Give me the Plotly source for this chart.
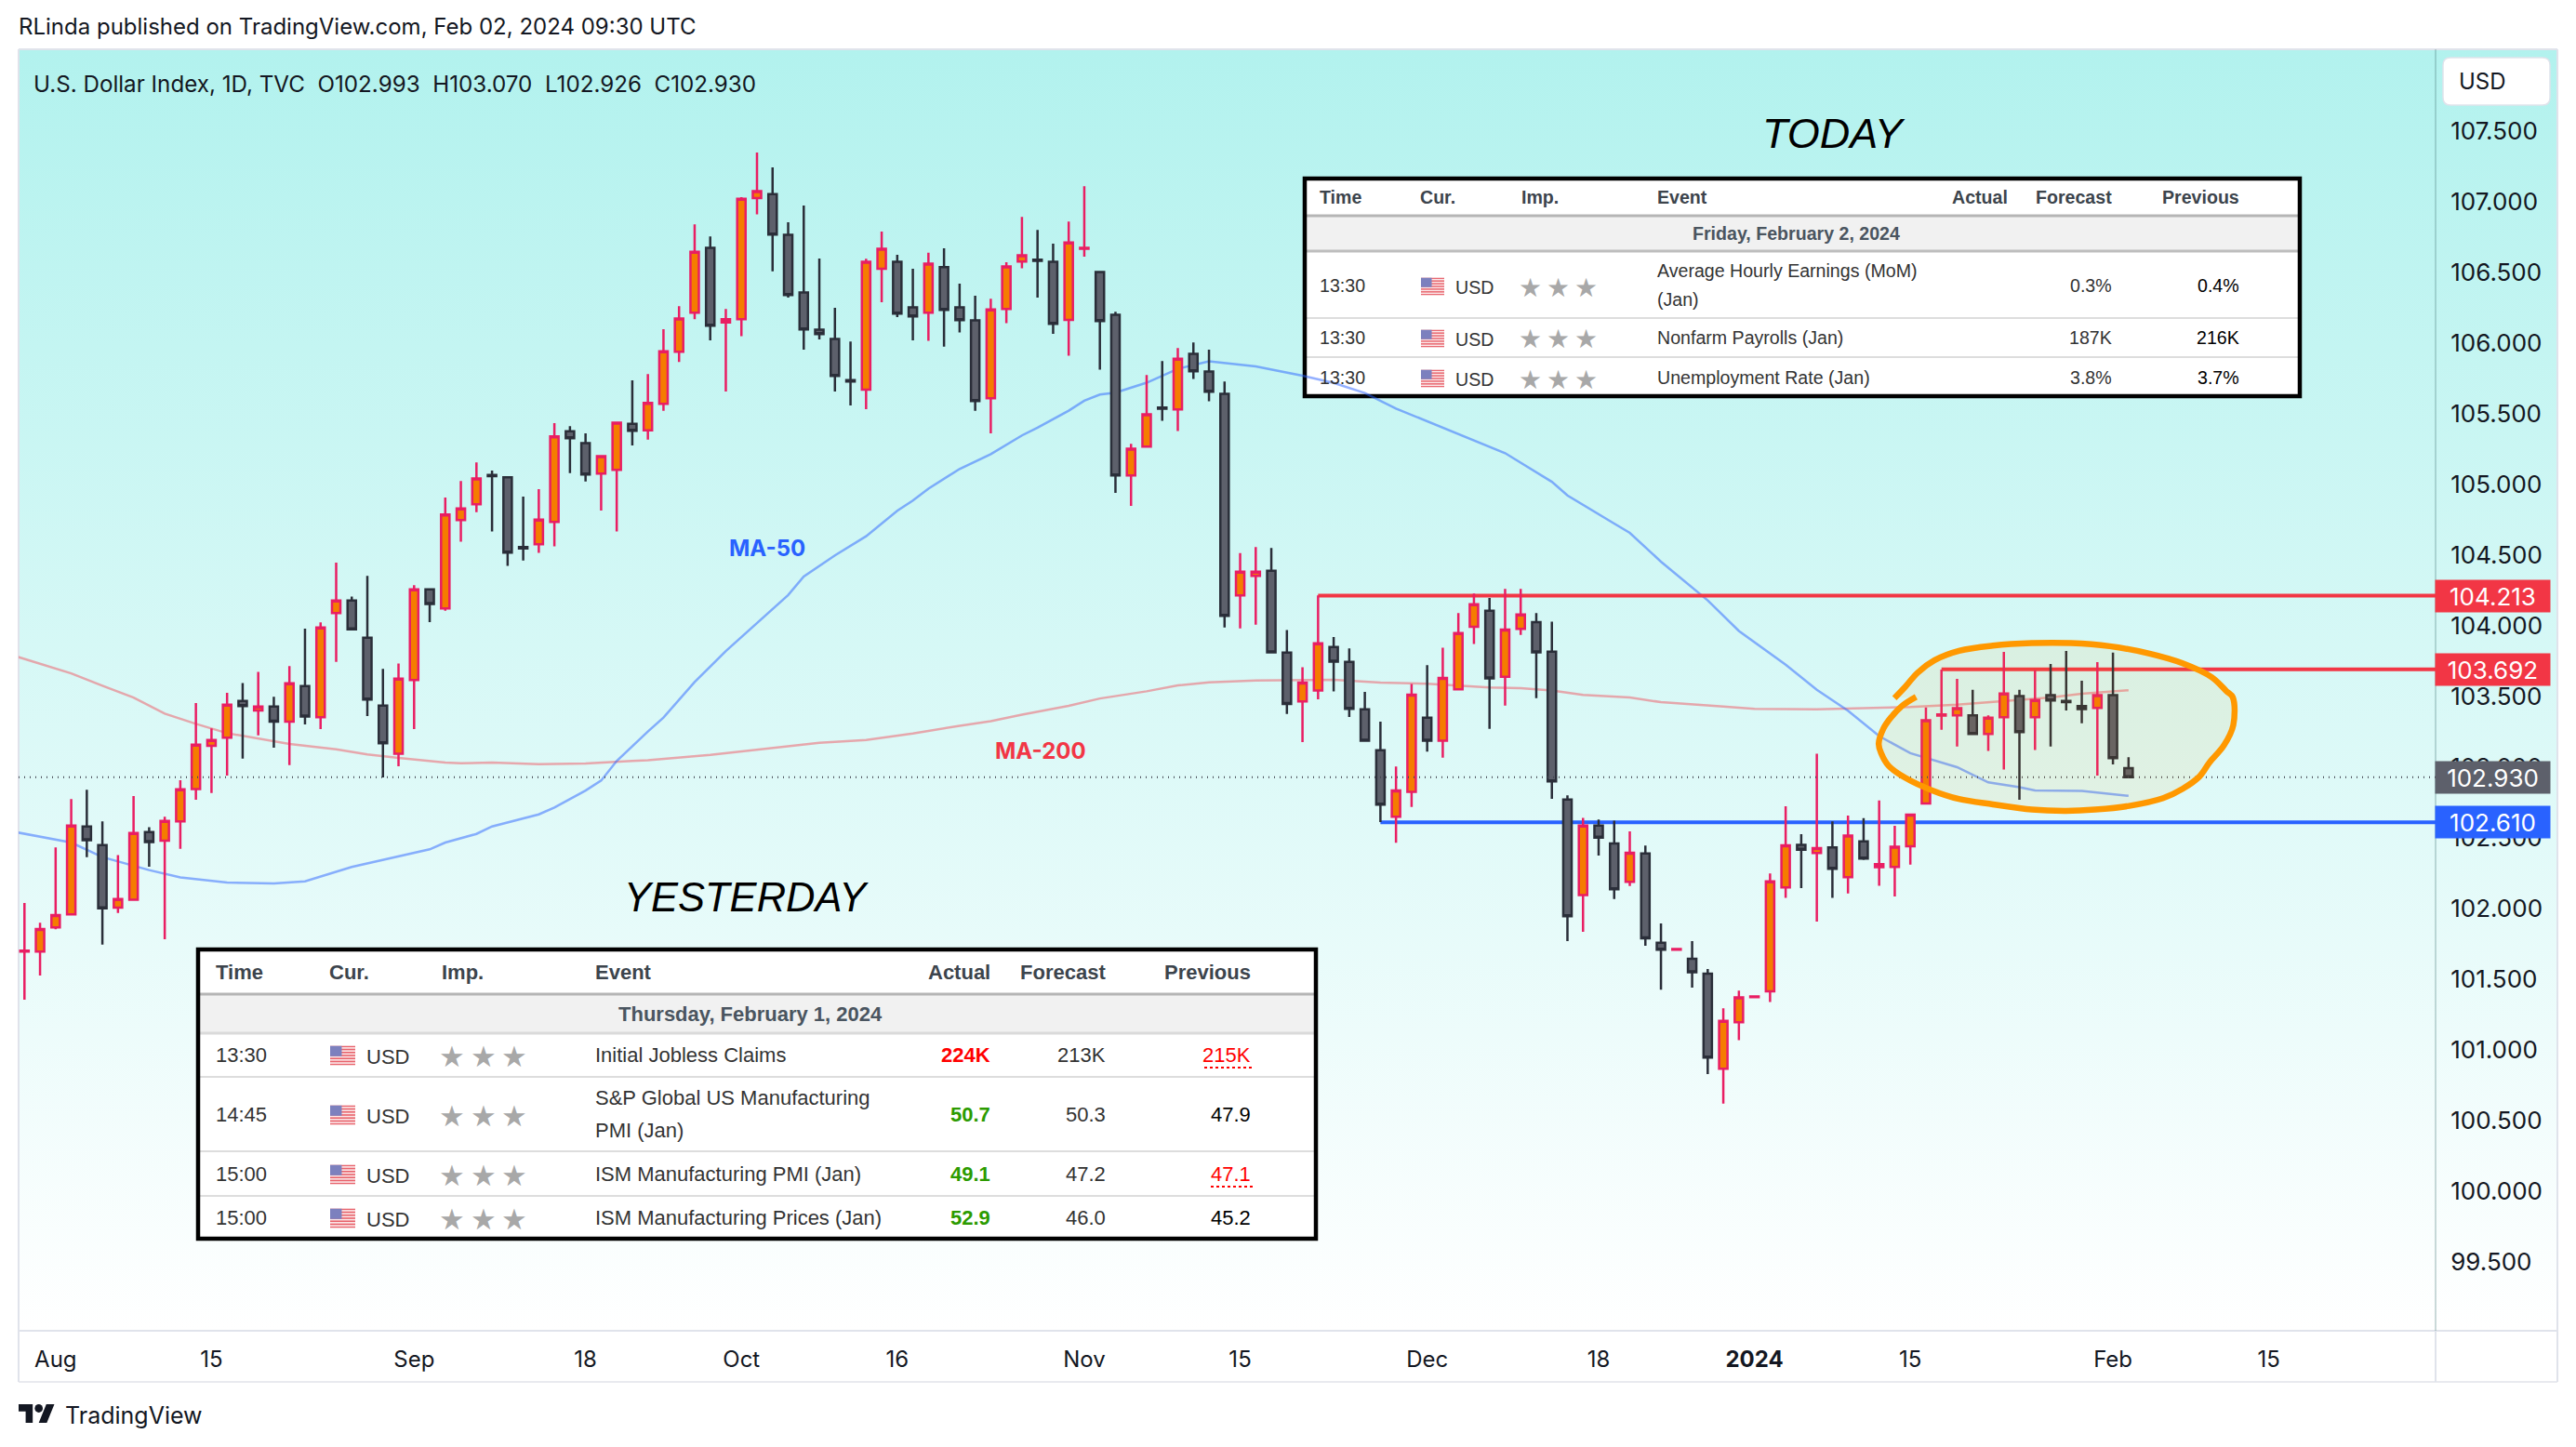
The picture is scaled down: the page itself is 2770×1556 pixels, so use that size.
import base64
import plotly.graph_objects as go

# OHLC, one candle per weekday from 2023-07-28
open_ = [101.695, 101.695, 101.866, 101.958, 102.581, 102.449, 102.006, 102.063, 102.541, 102.480,
         102.616, 102.846, 103.151, 103.208, 103.469, 103.401, 103.430, 103.322, 103.574, 103.353,
         104.090, 104.180, 103.916, 103.436, 103.096, 103.616, 104.259, 104.123, 104.748, 104.860,
         105.068, 105.051, 104.558, 104.577, 104.735, 105.377, 105.292, 105.077, 105.103, 105.430,
         105.384, 105.571, 105.939, 106.215, 106.674, 106.147, 106.169, 107.027, 107.055, 106.766,
         106.358, 106.095, 106.029, 105.738, 105.671, 106.527, 106.575, 106.253, 106.215, 106.538,
         106.253, 106.161, 105.610, 106.242, 106.577, 106.590, 106.575, 106.165, 106.667, 106.503,
         106.200, 105.064, 105.268, 105.544, 105.531, 105.924, 105.799, 105.641, 104.216, 104.354,
         104.389, 103.810, 103.465, 103.543, 103.851, 103.745, 103.410, 103.120, 102.650, 102.826,
         103.350, 103.188, 103.551, 103.994, 104.107, 103.639, 103.979, 104.027, 103.818, 102.771,
         102.096, 102.587, 102.461, 102.189, 102.390, 101.758, 101.708, 101.645, 101.539, 100.867,
         101.195, 101.373, 101.414, 102.149, 102.451, 102.393, 102.432, 102.222, 102.476, 102.292,
         102.294, 102.441, 102.744, 103.365, 103.367, 103.367, 103.235, 103.354, 103.503, 103.354,
         103.509, 103.469, 103.432, 103.419, 103.509, 102.993]
high = [102.039, 101.899, 102.432, 102.774, 102.840, 102.616, 102.379, 102.796, 102.576, 102.649,
        102.908, 103.454, 103.274, 103.526, 103.596, 103.675, 103.498, 103.715, 103.980, 104.024,
        104.447, 104.208, 104.353, 103.695, 103.734, 104.287, 104.267, 104.908, 105.024, 105.156,
        105.099, 105.051, 104.915, 104.967, 105.434, 105.413, 105.362, 105.200, 105.437, 105.737,
        105.781, 106.099, 106.261, 106.840, 106.755, 106.242, 107.033, 107.349, 107.244, 106.856,
        106.974, 106.599, 106.250, 106.011, 106.597, 106.790, 106.625, 106.527, 106.639, 106.671,
        106.421, 106.336, 106.314, 106.573, 106.893, 106.801, 106.704, 106.860, 107.110, 106.509,
        106.222, 105.288, 105.775, 105.873, 105.965, 106.005, 105.954, 105.729, 104.514, 104.557,
        104.551, 103.971, 103.707, 104.216, 103.921, 103.841, 103.533, 103.322, 103.005, 103.589,
        103.722, 103.846, 104.090, 104.228, 104.198, 104.261, 104.261, 104.090, 104.029, 102.801,
        102.642, 102.630, 102.622, 102.546, 102.446, 101.894, 101.714, 101.769, 101.572, 101.295,
        101.419, 101.379, 102.249, 102.723, 102.526, 103.095, 102.617, 102.658, 102.639, 102.764,
        102.586, 102.665, 103.422, 103.691, 103.625, 103.547, 103.367, 103.816, 103.547, 103.685,
        103.731, 103.823, 103.612, 103.744, 103.810, 103.070]
low = [101.355, 101.526, 101.853, 101.958, 102.364, 101.745, 101.969, 102.063, 102.296, 101.783,
       102.423, 102.769, 102.818, 102.941, 103.061, 103.226, 103.138, 103.015, 103.302, 103.269,
       103.745, 103.969, 103.362, 102.927, 103.006, 103.269, 104.026, 104.107, 104.595, 104.805,
       104.667, 104.425, 104.462, 104.516, 104.562, 105.081, 105.022, 104.816, 104.667, 105.277,
       105.318, 105.522, 105.867, 106.169, 106.020, 105.658, 106.049, 106.911, 106.509, 106.323,
       105.954, 106.027, 105.658, 105.560, 105.533, 106.290, 106.185, 106.020, 106.016, 105.976,
       106.075, 105.522, 105.362, 106.141, 106.529, 106.323, 106.066, 105.911, 106.612, 105.812,
       104.941, 104.849, 105.268, 105.450, 105.378, 105.746, 105.588, 103.989, 103.982, 104.009,
       103.813, 103.377, 103.178, 103.480, 103.536, 103.355, 103.188, 102.612, 102.466, 102.718,
       103.110, 103.068, 103.551, 103.871, 103.272, 103.435, 103.936, 103.488, 102.776, 101.769,
       101.836, 102.375, 102.068, 102.159, 101.736, 101.426, 101.708, 101.441, 100.829, 100.620,
       101.069, 101.373, 101.338, 102.076, 102.144, 101.907, 102.075, 102.106, 102.343, 102.161,
       102.086, 102.310, 102.744, 103.264, 103.147, 103.235, 103.115, 102.983, 102.770, 103.121,
       103.147, 103.402, 103.310, 102.941, 103.020, 102.926]
close = [101.703, 101.855, 101.954, 102.587, 102.484, 102.002, 102.068, 102.535, 102.471, 102.620,
         102.844, 103.160, 103.193, 103.443, 103.432, 103.430, 103.322, 103.594, 103.359, 103.989,
         104.180, 103.976, 103.478, 103.169, 103.627, 104.259, 104.155, 104.788, 104.831, 105.042,
         105.060, 104.518, 104.548, 104.752, 105.340, 105.327, 105.070, 105.200, 105.437, 105.380,
         105.577, 105.943, 106.174, 106.647, 106.123, 106.169, 107.022, 107.075, 106.768, 106.340,
         106.097, 106.064, 105.768, 105.728, 106.575, 106.667, 106.209, 106.189, 106.562, 106.235,
         106.163, 105.590, 106.239, 106.542, 106.621, 106.582, 106.136, 106.713, 106.675, 106.156,
         105.064, 105.253, 105.496, 105.536, 105.889, 105.801, 105.656, 104.070, 104.384, 104.384,
         103.813, 103.448, 103.599, 103.876, 103.747, 103.413, 103.188, 102.735, 102.836, 103.513,
         103.188, 103.632, 103.949, 104.153, 103.629, 103.974, 104.080, 103.813, 102.899, 101.945,
         102.587, 102.501, 102.136, 102.395, 101.789, 101.708, 101.714, 101.549, 100.945, 101.205,
         101.371, 101.379, 102.192, 102.448, 102.416, 102.428, 102.281, 102.516, 102.354, 102.314,
         102.437, 102.665, 103.332, 103.373, 103.417, 103.235, 103.351, 103.522, 103.248, 103.476,
         103.472, 103.461, 103.411, 103.509, 103.064, 102.930]
candle_x = list(range(len(close)))

ma50_x = [-1, 3, 5, 8, 10, 13, 16, 18, 21, 23, 26, 27, 29, 30, 33, 34, 36, 37, 38, 40, 41, 43, 45,
          49, 50, 52, 54, 56, 57, 58, 60, 62, 64, 65, 67, 68, 69, 70, 72, 74, 76, 79, 82, 84, 86,
          88, 91, 94, 95, 98, 99, 102, 103, 105, 106, 108, 110, 113, 115, 117, 119, 121, 124, 126,
          128, 129, 132, 135]
ma50_y = [102.550, 102.467, 102.364, 102.272, 102.221, 102.184, 102.177, 102.193, 102.294, 102.342,
          102.419, 102.467, 102.528, 102.581, 102.666, 102.715, 102.835, 102.905, 103.044, 103.252,
          103.351, 103.603, 103.822, 104.218, 104.349, 104.498, 104.634, 104.814, 104.886, 104.970,
          105.110, 105.215, 105.347, 105.402, 105.522, 105.593, 105.636, 105.650, 105.720, 105.818,
          105.871, 105.836, 105.770, 105.719, 105.647, 105.537, 105.401, 105.270, 105.222, 105.019,
          104.923, 104.724, 104.658, 104.454, 104.362, 104.180, 103.964, 103.725, 103.548, 103.400,
          103.220, 103.099, 103.000, 102.893, 102.858, 102.836, 102.832, 102.797]
ma200_x = [-1, 1, 3, 5, 7, 9, 11, 13, 15, 17, 20, 22, 24, 27, 28, 30, 33, 36, 39, 40, 44, 48, 51,
           54, 57, 60, 62, 64, 67, 69, 72, 74, 76, 79, 82, 84, 87, 90, 94, 96, 98, 100, 103, 105,
           109, 111, 115, 118, 121, 124, 126, 130, 132, 135]
ma200_y = [103.800, 103.734, 103.664, 103.576, 103.493, 103.379, 103.307, 103.241, 103.204, 103.164,
           103.127, 103.090, 103.066, 103.033, 103.028, 103.033, 103.022, 103.026, 103.044, 103.050,
           103.087, 103.138, 103.173, 103.193, 103.239, 103.293, 103.326, 103.372, 103.434, 103.486,
           103.537, 103.579, 103.601, 103.614, 103.619, 103.618, 103.599, 103.591, 103.564, 103.559,
           103.543, 103.511, 103.493, 103.460, 103.430, 103.413, 103.410, 103.417, 103.426, 103.443,
           103.461, 103.494, 103.520, 103.544]

# hand drawn orange ring
ring_x = [119.98, 120.69, 121.47, 122.56, 124.12, 126.30, 128.80, 131.30, 133.79, 136.29, 138.47,
          140.35, 141.28, 141.69, 141.72, 141.12, 140.19, 139.56, 138.47, 137.22, 135.04, 132.86,
          130.98, 128.80, 126.30, 124.12, 122.40, 120.69, 119.60, 119.13, 118.97, 119.28, 119.75,
          120.53, 121.37]
ring_y = [103.489, 103.571, 103.669, 103.757, 103.823, 103.860, 103.878, 103.878, 103.856, 103.805,
          103.735, 103.636, 103.538, 103.494, 103.297, 103.154, 103.033, 102.935, 102.847, 102.781,
          102.726, 102.700, 102.691, 102.700, 102.737, 102.775, 102.836, 102.924, 103.011, 103.099,
          103.165, 103.275, 103.351, 103.439, 103.498]

# horizontal levels: start candle, price
level_start = [83, 123, 87]
level_price = [104.213, 103.692, 102.610]
level_color = ['#F23645', '#F23645', '#2962FF']
last_price = 102.930

y_ticks = [99.5, 100, 100.5, 101, 101.5, 102, 102.5, 103, 103.5, 104, 104.5, 105, 105.5, 106,
           106.5, 107, 107.5]
x_tick_pos = [2, 12, 25, 36, 46, 56, 68, 78, 90, 101, 111, 121, 134, 144]
x_tick_text = ['Aug', '15', 'Sep', '18', 'Oct', '16', 'Nov', '15', 'Dec', '18', '<b>2024</b>', '15', 'Feb', '15']

today_rows = [['13:30', ['Average Hourly Earnings (MoM)', '(Jan)'], '', '0.3%', '0.4%'],
              ['13:30', ['Nonfarm Payrolls (Jan)'], '', '187K', '216K'],
              ['13:30', ['Unemployment Rate (Jan)'], '', '3.8%', '3.7%']]
yesterday_rows = [['13:30', ['Initial Jobless Claims'], '224K', '213K', '215K'],
                  ['14:45', ['S&P Global US Manufacturing', 'PMI (Jan)'], '50.7', '50.3', '47.9'],
                  ['15:00', ['ISM Manufacturing PMI (Jan)'], '49.1', '47.2', '47.1'],
                  ['15:00', ['ISM Manufacturing Prices (Jan)'], '52.9', '46.0', '45.2']]

# layout in picture pixels
W, H = 2770, 1556
L, R, T, B = 20, 2619, 53, 1431
x_range = [-0.376, 154.7]
y_range = [99.013, 108.079]
ui_font = 'Inter'
tbl_font = 'Liberation Sans'


def px(x):
    return (x - L) / (R - L)


def py(y):
    return (B - y) / (B - T)


def data_uri(svg):
    return 'data:image/svg+xml;base64,' + base64.b64encode(svg.encode()).decode()


annotations, shapes, images = [], [], []


def note(x, y, text, size=24, color='#131722', anchor='left', font=ui_font):
    annotations.append(dict(x=px(x), y=py(y), xref='paper', yref='paper', text=text, showarrow=False,
                            xanchor=anchor, yanchor='middle', font=dict(family=font, size=size, color=color)))


def box(x0, y0, x1, y1, fill=None, line=None, width=0, layer='below'):
    shapes.append(dict(type='rect', xref='paper', yref='paper', x0=px(x0), x1=px(x1), y0=py(y0), y1=py(y1),
                       fillcolor=fill, line=dict(color=line, width=width), layer=layer))


def hline(x0, x1, y, color, width, dash='solid', layer='below'):
    shapes.append(dict(type='line', xref='paper', yref='paper', x0=px(x0), x1=px(x1), y0=py(y), y1=py(y),
                       line=dict(color=color, width=width, dash=dash), layer=layer))


def vline(x, y0, y1, color, width=2):
    shapes.append(dict(type='line', xref='paper', yref='paper', x0=px(x), x1=px(x), y0=py(y0), y1=py(y1),
                       line=dict(color=color, width=width), layer='below'))


def image(src, x0, y0, x1, y1, layer='above'):
    images.append(dict(source=src, xref='paper', yref='paper', x=px(x0), y=py(y0), sizex=px(x1) - px(x0),
                       sizey=py(y0) - py(y1), sizing='stretch', xanchor='left', yanchor='top', layer=layer))


# background gradient, runs under the price pane too
bg_svg = ('<svg xmlns="http://www.w3.org/2000/svg" width="10" height="100" preserveAspectRatio="none">'
          '<defs><linearGradient id="g" x1="0" y1="0" x2="0" y2="1"><stop offset="0" stop-color="#B2F2EE"/>'
          '<stop offset="1" stop-color="#FFFFFF"/></linearGradient></defs>'
          '<rect width="10" height="100" fill="url(#g)"/></svg>')
image(data_uri(bg_svg), L, T, 2750, B, layer='below')

stripes = ''.join(f'<rect y="{i * 2}" width="26" height="1" fill="#E8636C"/>' for i in range(7))
flag_svg = ('<svg xmlns="http://www.w3.org/2000/svg" width="26" height="13" viewBox="0 0 26 13" preserveAspectRatio="none">'
            '<rect width="26" height="13" fill="#FBE9EA"/>' + stripes +
            '<rect width="12" height="7" fill="#7C80BE"/></svg>')
logo_svg = ('<svg xmlns="http://www.w3.org/2000/svg" width="36" height="18" viewBox="0 4 36 18" preserveAspectRatio="none">'
            '<path fill="#131722" d="M14 22H7V11H0V4h14v18zM28 22h-8l7.5-18h8L28 22z"/>'
            '<circle fill="#131722" cx="20" cy="8" r="4"/></svg>')

# frame of the chart
hline(L, 2750, T, '#E0E3EB', 2)
hline(L, 2750, B, '#E0E3EB', 2)
hline(L, 2750, 1486, '#E9EAEF', 2)
vline(L, T, 1486, '#E0E3EB')
vline(R, T, B, 'rgba(70,120,120,0.28)')
vline(R, B, 1486, '#E0E3EB')
vline(2750, T, 1486, '#E0E3EB')


def calendar(rows, date_text, rect, head_y, head_line, date_line, row_lines, centers, cols, size, flag, stars_x, star_h):
    x0, y0, x1, y1 = rect
    box(x0, y0, x1, y1, fill='#FFFFFF')
    box(x0, head_line, x1, date_line, fill='#F1F1F1')
    hline(x0, x1, head_line, '#B5B5B5', 3)
    hline(x0, x1, date_line, '#BDBDBD' if size < 22 else '#DADADA', 3)
    for yl in row_lines:
        hline(x0, x1, yl, '#DDDDDD', 2)
    box(x0, y0, x1, y1, line='#000000', width=4.5)

    heads = ['Time', 'Cur.', 'Imp.', 'Event']
    for name, cx in zip(heads, cols[:4]):
        note(cx, head_y, f'<b>{name}</b>', size, '#3C444C', font=tbl_font)
    note(cols[4], head_y, '<b>Actual</b>', size, '#3C444C', 'right', tbl_font)
    note(cols[5], head_y, '<b>Forecast</b>', size, '#3C444C', 'right', tbl_font)
    note(cols[6], head_y, '<b>Previous</b>', size, '#3C444C', 'right', tbl_font)
    note((x0 + x1) / 2 - 7, (head_line + date_line) / 2, f'<b>{date_text}</b>', size, '#4A5560', 'center', tbl_font)

    for row, (cy, ev_ys) in zip(rows, centers):
        time, event, actual, forecast, previous = row
        note(cols[0], cy, time, size, '#333333', font=tbl_font)
        image(data_uri(flag_svg), cols[1] + 3, cy + 1 - flag[1] / 2, cols[1] + 3 + flag[0], cy + 1 + flag[1] / 2)
        note(cols[1] + flag[0] + 13, cy + 2, 'USD', size, '#333333', font=tbl_font)
        for sx in stars_x:
            note(sx, cy + 2, '★', star_h, '#A8A8A8', 'center', 'DejaVu Sans')
        for txt, ey in zip(event, ev_ys):
            note(cols[3], ey, txt, size, '#333333', font=tbl_font)
        if actual:
            a_color = '#FF0000' if actual == '224K' else '#2C9B00'
            note(cols[4], cy, f'<b>{actual}</b>', size, a_color, 'right', tbl_font)
        note(cols[5], cy, forecast, size, '#333333', 'right', tbl_font)
        flagged = previous in ('215K', '47.1')
        note(cols[6], cy, previous, size, '#FF0000' if flagged else '#000000', 'right', tbl_font)
        if flagged:
            hline(cols[6] - (52 if previous == '215K' else 45), cols[6], cy + 14, '#FF0000', 2, 'dot', 'above')


calendar(today_rows, 'Friday, February 2, 2024', (1403, 192, 2473, 426), 212, 232, 270, [342, 384],
         [(307, [291, 322]), (363, [363]), (406, [406])],
         [1417, 1525, 1634, 1780, 2161, 2273, 2410], 19.6, (25, 19), [1645, 1675, 1705], 28)
calendar(yesterday_rows, 'Thursday, February 1, 2024', (213, 1021, 1415, 1332), 1045, 1069, 1111, [1158, 1238, 1286],
         [(1134, [1134]), (1198, [1180, 1215]), (1262, [1262]), (1309, [1309])],
         [230, 352, 473, 638, 1067, 1191, 1347], 22, (27, 21), [486, 520, 553], 31)

note(18, 28, 'RLinda published on TradingView.com, Feb 02, 2024 09:30 UTC', 24)
note(34, 90, 'U.S. Dollar Index, 1D, TVC  O102.993  H103.070  L102.926  C102.930', 24.2)
note(1972, 143, '<i>TODAY</i>', 45, '#000000', 'center', tbl_font)
note(802, 965, '<i>YESTERDAY</i>', 43.5, '#000000', 'center', tbl_font)
note(825, 589, '<b>MA-50</b>', 24, '#2962FF', 'center')
note(1119, 807, '<b>MA-200</b>', 24, '#F23645', 'center')
note(68, 1522, 'TradingView', 25)
image(data_uri(logo_svg), 20, 1510, 59, 1530)

# USD button on the price pane
shapes.append(dict(type='path', xref='paper', yref='paper', layer='below', fillcolor='#FFFFFF',
                   line=dict(color='#E0E3EB', width=1.5),
                   path=f'M{px(2635)},{py(62)} L{px(2734)},{py(62)} Q{px(2742)},{py(62)} {px(2742)},{py(70)} '
                        f'L{px(2742)},{py(105)} Q{px(2742)},{py(113)} {px(2734)},{py(113)} L{px(2635)},{py(113)} '
                        f'Q{px(2627)},{py(113)} {px(2627)},{py(105)} L{px(2627)},{py(70)} Q{px(2627)},{py(62)} {px(2635)},{py(62)} Z'))
note(2642, 88, 'USD', 24)

fig = go.Figure()

# lowest layer: moving averages and levels, candles sit on top of them
fig.add_trace(go.Scatter(x=ma200_x, y=ma200_y, mode='lines', line=dict(color='rgba(242,54,69,0.42)', width=2.5), hoverinfo='skip'))
fig.add_trace(go.Scatter(x=ma50_x, y=ma50_y, mode='lines', line=dict(color='rgba(41,98,255,0.5)', width=2.5), hoverinfo='skip'))
for start, price, color in zip(level_start, level_price, level_color):
    fig.add_trace(go.Scatter(x=[start, x_range[1]], y=[price, price], mode='lines', line=dict(color=color, width=4), hoverinfo='skip'))
    annotations.append(dict(x=px(2618), y=price, xref='paper', yref='y', text=f'{price:.3f}', showarrow=False,
                            xanchor='left', yanchor='middle', width=123, height=34, bgcolor=color, borderpad=0,
                            font=dict(family=ui_font, size=26, color='#FFFFFF')))
annotations.append(dict(x=px(2618), y=last_price, xref='paper', yref='y', text=f'{last_price:.3f}', showarrow=False,
                        xanchor='left', yanchor='middle', width=123, height=34, bgcolor='#5D606B', borderpad=0,
                        font=dict(family=ui_font, size=26, color='#FFFFFF')))

fig.add_trace(go.Candlestick(x=candle_x, open=open_, high=high, low=low, close=close, yaxis='y2', whiskerwidth=0,
                             increasing=dict(line=dict(color='#E91E63', width=2.5), fillcolor='#F57C00'),
                             decreasing=dict(line=dict(color='#2A2E39', width=2.5), fillcolor='#5D606B'),
                             hoverinfo='skip'))

fig.add_trace(go.Scatter(x=x_range, y=[last_price, last_price], yaxis='y3', mode='lines',
                         line=dict(color='#434651', width=2, dash='1px 5px'), hoverinfo='skip'))
fig.add_trace(go.Scatter(x=ring_x, y=ring_y, yaxis='y3', mode='lines', fill='toself', fillcolor='rgba(255,152,0,0.08)',
                         line=dict(color='#FF9800', width=6.5, shape='spline'), hoverinfo='skip'))

fig.update_layout(
    width=W, height=H, showlegend=False,
    margin=dict(l=L, r=W - R, t=T, b=H - B, pad=0, autoexpand=False),
    paper_bgcolor='#FFFFFF', plot_bgcolor='rgba(0,0,0,0)',
    boxgap=0.46, boxgroupgap=0,
    annotations=annotations, shapes=shapes, images=images,
    xaxis=dict(range=x_range, rangeslider=dict(visible=False), showgrid=False, zeroline=False, showline=False,
               tickmode='array', tickvals=x_tick_pos, ticktext=x_tick_text, ticks='outside', ticklen=9,
               tickcolor='rgba(0,0,0,0)', tickfont=dict(family=ui_font, size=24, color='#131722')),
    yaxis=dict(range=y_range, side='right', showgrid=False, zeroline=False, showline=False, tickmode='array',
               tickvals=y_ticks, tickformat='.3f', ticks='outside', ticklen=10, tickcolor='rgba(0,0,0,0)',
               tickfont=dict(family=ui_font, size=26, color='#131722')),
    yaxis2=dict(range=y_range, overlaying='y', visible=False),
    yaxis3=dict(range=y_range, overlaying='y', visible=False),
)

fig.write_html('out.html', post_script="document.body.style.margin='0';", config=dict(displayModeBar=False))
